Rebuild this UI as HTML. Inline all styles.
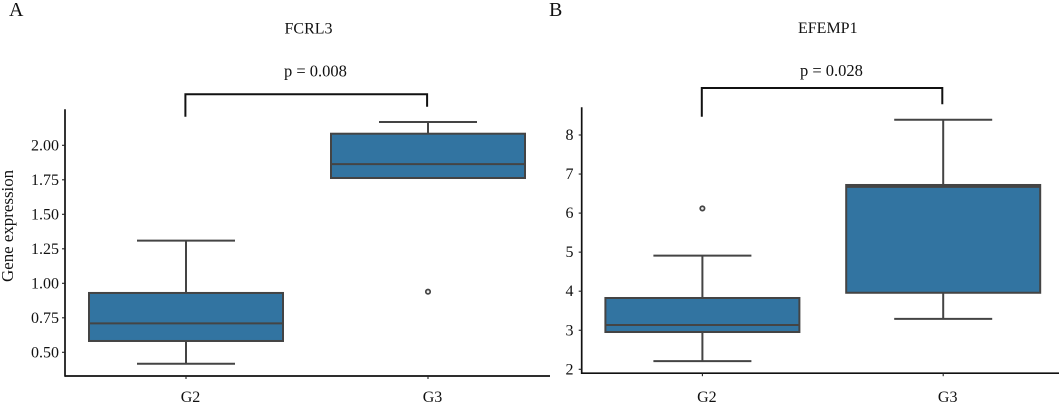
<!DOCTYPE html>
<html lang="en">
<head>
<meta charset="utf-8">
<title>FCRL3 and EFEMP1 expression</title>
<style>
html,body{margin:0;padding:0;background:#fff;}
svg{display:block;font-family:"Liberation Serif",serif;fill:#111;}
</style>
</head>
<body>
<svg id="figure" width="1059" height="405" viewBox="0 0 1059 405" xmlns="http://www.w3.org/2000/svg">
  <rect x="0" y="0" width="1059" height="405" fill="#fff"></rect>
  <text x="9" y="16" font-size="20">A</text>
  <text x="549" y="16" font-size="20">B</text>
  <text x="284.5" y="33.5" font-size="16">FCRL3</text>
  <text x="798" y="33" font-size="16">EFEMP1</text>
  <text x="284" y="76.5" font-size="16.5">p = 0.008</text>
  <text x="800" y="76" font-size="16.5">p = 0.028</text>
  <text transform="translate(13 282) rotate(-90)" font-size="16.9">Gene expression</text>
</svg>
<script>
const categories = ['G2', 'G3'];

const fcrl3Ticks = [0.5, 0.75, 1.0, 1.25, 1.5, 1.75, 2.0];
const fcrl3TickLabels = ['0.50', '0.75', '1.00', '1.25', '1.50', '1.75', '2.00'];
const fcrl3WhiskerLow = [0.417, 1.763];
const fcrl3Q1 = [0.582, 1.763];
const fcrl3Median = [0.71, 1.864];
const fcrl3Q3 = [0.93, 2.084];
const fcrl3WhiskerHigh = [1.309, 2.169];
const fcrl3Outliers = [[], [0.939]];

const efemp1Ticks = [2, 3, 4, 5, 6, 7, 8];
const efemp1TickLabels = ['2', '3', '4', '5', '6', '7', '8'];
const efemp1WhiskerLow = [2.21, 3.29];
const efemp1Q1 = [2.955, 3.96];
const efemp1Median = [3.134, 6.67];
const efemp1Q3 = [3.826, 6.72];
const efemp1WhiskerHigh = [4.91, 8.39];
const efemp1Outliers = [[6.12], []];

const svg = document.getElementById('figure');
const NS = 'http://www.w3.org/2000/svg';
const BOX_LINE = '#444444';
const BOX_FILL = '#3274a1';

function shape(tag, props, parent) {
  const el = document.createElementNS(NS, tag);
  Object.keys(props).forEach(function (k) { el.setAttribute(k, props[k]); });
  parent.appendChild(el);
  return el;
}

function drawPanel(cfg) {
  const xScale = function (i) { return cfg.x0 + i * cfg.xStep; };
  const yScale = function (v) { return cfg.yAnchor - (v - cfg.vAnchor) * cfg.yPerUnit; };

  const panel = shape('g', {}, svg);
  
  

  const yAxis = shape('line', {x1: cfg.axisX, x2: cfg.axisX, y1: cfg.axisTop, y2: cfg.axisY + 0.8, stroke: '#111', 'stroke-width': 1.7}, panel);
  
  

  const xAxis = shape('line', {x1: cfg.axisX, x2: cfg.axisEnd, y1: cfg.axisY, y2: cfg.axisY, stroke: '#111', 'stroke-width': 1.7}, panel);
  
  

  cfg.ticks.forEach(function (v, i) {
    const tick = shape('line', {x1: cfg.axisX - 3, x2: cfg.axisX, y1: yScale(v), y2: yScale(v), stroke: '#222', 'stroke-width': 1.1}, panel);
    
    

    const label = shape('text', {x: cfg.tickLabelEnd, y: yScale(v) + 5, 'text-anchor': 'end', 'font-size': 16}, panel);
    label.textContent = cfg.tickLabels[i];
    
    
  });

  categories.forEach(function (cat, i) {
    const cx = xScale(i);
    const group = shape('g', {}, panel);
    
    

    const line = {stroke: BOX_LINE, 'stroke-width': 2};

    const upper = shape('line', Object.assign({x1: cx, x2: cx, y1: yScale(cfg.q3[i]), y2: yScale(cfg.high[i])}, line), group);
    
    

    const lower = shape('line', Object.assign({x1: cx, x2: cx, y1: yScale(cfg.q1[i]), y2: yScale(cfg.low[i])}, line), group);
    
    

    const capHigh = shape('line', Object.assign({x1: cx - cfg.capHalf, x2: cx + cfg.capHalf, y1: yScale(cfg.high[i]), y2: yScale(cfg.high[i])}, line), group);
    
    

    if (cfg.low[i] < cfg.q1[i]) {
      const capLow = shape('line', Object.assign({x1: cx - cfg.capHalf, x2: cx + cfg.capHalf, y1: yScale(cfg.low[i]), y2: yScale(cfg.low[i])}, line), group);
      
      
    }

    const box = shape('rect', {x: cx - cfg.boxHalf, y: yScale(cfg.q3[i]), width: cfg.boxHalf * 2, height: yScale(cfg.q1[i]) - yScale(cfg.q3[i]), fill: BOX_FILL, stroke: BOX_LINE, 'stroke-width': 2}, group);
    
    

    const median = shape('line', Object.assign({x1: cx - cfg.boxHalf, x2: cx + cfg.boxHalf, y1: yScale(cfg.median[i]), y2: yScale(cfg.median[i])}, line), group);
    
    

    cfg.outliers[i].forEach(function (v) {
      const dot = shape('circle', {cx: cx, cy: yScale(v), r: 2.2, fill: '#eeeeee', stroke: BOX_LINE, 'stroke-width': 1.7}, group);
      
      
    });

    const xTick = shape('line', {x1: cx, x2: cx, y1: cfg.axisY, y2: cfg.axisY + 3, stroke: '#222', 'stroke-width': 1.1}, panel);
    
    

    const xLabel = shape('text', {x: cx + 4.5, y: 402, 'text-anchor': 'middle', 'font-size': 16}, panel);
    xLabel.textContent = cat;
    
    
  });

  const bracketLeft = xScale(0) - 0.6;
  const bracketRight = xScale(1) - 0.9;
  const bracket = shape('path', {d: 'M' + bracketLeft + ' ' + cfg.bracketLeftEnd + 'V' + cfg.bracketTop + 'H' + bracketRight + 'V' + cfg.bracketRightEnd, fill: 'none', stroke: '#111', 'stroke-width': 2}, panel);
  
  
}

drawPanel({
  name: 'fcrl3', ticks: fcrl3Ticks, tickLabels: fcrl3TickLabels,
  low: fcrl3WhiskerLow, q1: fcrl3Q1, median: fcrl3Median, q3: fcrl3Q3, high: fcrl3WhiskerHigh, outliers: fcrl3Outliers,
  x0: 186, xStep: 242, boxHalf: 97, capHalf: 49,
  vAnchor: 0.5, yAnchor: 352.3, yPerUnit: 138,
  axisX: 65, axisTop: 109.3, axisY: 376, axisEnd: 550, tickLabelEnd: 59,
  bracketTop: 94.3, bracketLeftEnd: 116.7, bracketRightEnd: 106.7
});

drawPanel({
  name: 'efemp1', ticks: efemp1Ticks, tickLabels: efemp1TickLabels,
  low: efemp1WhiskerLow, q1: efemp1Q1, median: efemp1Median, q3: efemp1Q3, high: efemp1WhiskerHigh, outliers: efemp1Outliers,
  x0: 702.4, xStep: 240.8, boxHalf: 97, capHalf: 49,
  vAnchor: 2, yAnchor: 369.3, yPerUnit: 39.05,
  axisX: 581.7, axisTop: 107.3, axisY: 373.2, axisEnd: 1059, tickLabelEnd: 573.5,
  bracketTop: 88, bracketLeftEnd: 116.7, bracketRightEnd: 104.3
});
</script>
</body>
</html>
